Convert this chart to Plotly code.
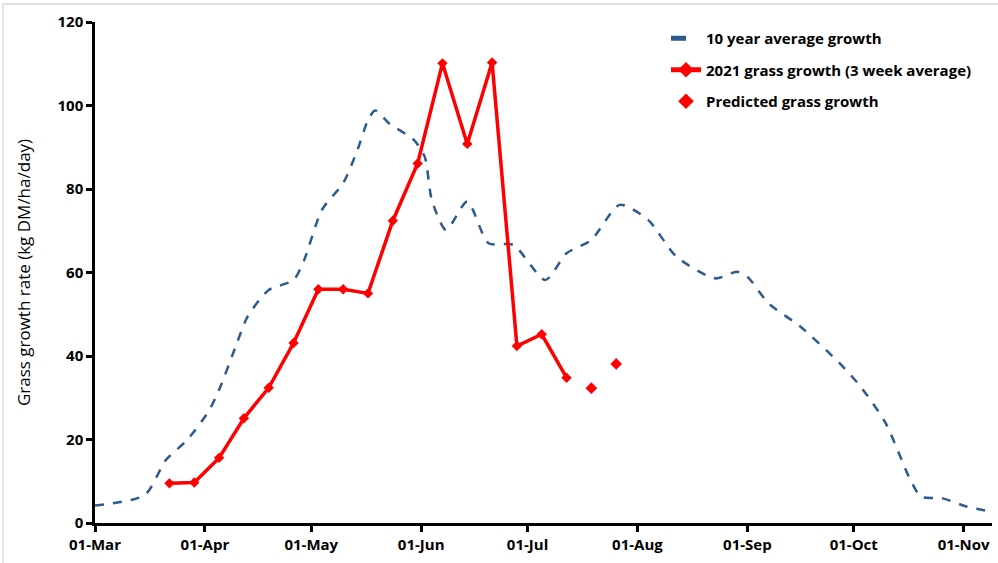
import plotly.graph_objects as go

# 10 year average growth
avg_dates = ["2021-03-01", "2021-03-15", "2021-03-21", "2021-03-27", "2021-04-02", "2021-04-05",
             "2021-04-10", "2021-04-13", "2021-04-19", "2021-04-26", "2021-04-29", "2021-05-04",
             "2021-05-10", "2021-05-14", "2021-05-17", "2021-05-19", "2021-05-23", "2021-05-30",
             "2021-06-02", "2021-06-04", "2021-06-08", "2021-06-14", "2021-06-20", "2021-06-27",
             "2021-07-06", "2021-07-12", "2021-07-19", "2021-07-27", "2021-08-04", "2021-08-12",
             "2021-08-23", "2021-08-29", "2021-09-01", "2021-09-07", "2021-09-16", "2021-09-27",
             "2021-10-03", "2021-10-10", "2021-10-17", "2021-10-20", "2021-10-26", "2021-11-02",
             "2021-11-09"]
avg_values = [4.2, 6.7, 15.1, 19.9, 26.7, 31.9,
              43.0, 49.4, 55.8, 58.2, 63.0, 75.0,
              81.4, 89.3, 96.5, 98.8, 95.7, 91.7,
              87.7, 77.4, 70.2, 77.0, 67.0, 66.6,
              58.2, 64.6, 67.8, 76.2, 72.6, 63.8,
              58.6, 60.2, 59.0, 52.6, 47.0, 38.3,
              32.6, 23.9, 10.3, 6.3, 5.9, 3.9,
              2.7]

# 2021 grass growth (3 week average)
g2021_dates = ["2021-03-22", "2021-03-29", "2021-04-05", "2021-04-12", "2021-04-19", "2021-04-26",
               "2021-05-03", "2021-05-10", "2021-05-17", "2021-05-24", "2021-05-31", "2021-06-07",
               "2021-06-14", "2021-06-21", "2021-06-28", "2021-07-05", "2021-07-12"]
g2021_values = [9.5, 9.7, 15.6, 25.1, 32.4, 43.1,
                56.0, 56.0, 55.0, 72.4, 86.1, 110.1,
                90.8, 110.3, 42.4, 45.2, 34.8]

# Predicted grass growth
pred_dates = ["2021-07-19", "2021-07-26"]
pred_values = [32.3, 38.1]

tick_dates = ["2021-03-01", "2021-04-01", "2021-05-01", "2021-06-01", "2021-07-01",
              "2021-08-01", "2021-09-01", "2021-10-01", "2021-11-01"]
tick_labels = ["01-Mar", "01-Apr", "01-May", "01-Jun", "01-Jul",
               "01-Aug", "01-Sep", "01-Oct", "01-Nov"]

FONT = "Open Sans"
W, H = 998, 563
ML, MR, MT, MB = 95, 6, 22, 40
PW, PH = W - ML - MR, H - MT - MB

fig = go.Figure()
fig.add_trace(go.Scatter(
    x=avg_dates, y=avg_values, mode="lines", name="10 year average growth",
    legendgroup="a",
    line=dict(color="#2E5A8C", width=2.5, dash="dash", shape="spline", smoothing=0.7),
))
fig.add_trace(go.Scatter(
    x=g2021_dates, y=g2021_values, mode="lines+markers",
    name="2021 grass growth (3 week average)", legendgroup="b",
    line=dict(color="#FF0000", width=3.5),
    marker=dict(symbol="diamond", size=8, color="#FF0000"),
))
fig.add_trace(go.Scatter(
    x=pred_dates, y=pred_values, mode="markers", name="Predicted grass growth",
    legendgroup="c",
    marker=dict(symbol="diamond", size=9, color="#FF0000"),
))

# light grey frame around the whole picture (left/top visible edges)
fig.add_shape(type="rect", xref="paper", yref="paper",
              x0=(3 - ML) / PW, x1=(W + 5 - ML) / PW,
              y0=(H - MB - (H + 5)) / PH, y1=(H - MB - 4) / PH,
              line=dict(color="#D9D9D9", width=1.5), layer="below")

fig.update_layout(
    width=W, height=H,
    margin=dict(l=ML, r=MR, t=MT, b=MB),
    paper_bgcolor="white", plot_bgcolor="white",
    font=dict(family=FONT, color="black"),
    showlegend=True,
    legend=dict(
        x=(666 - ML) / PW, y=1.0, xanchor="left", yanchor="top",
        bgcolor="rgba(0,0,0,0)",
        font=dict(family=FONT, size=15, color="black", weight="bold"),
        tracegroupgap=9, itemsizing="constant", traceorder="grouped",
    ),
    xaxis=dict(
        type="date", range=["2021-03-01", "2021-11-09"],
        tickvals=tick_dates, ticktext=tick_labels,
        showline=True, linecolor="black", linewidth=2.5,
        ticks="outside", ticklen=6, tickwidth=2.5, tickcolor="black",
        showgrid=False, zeroline=False,
        tickfont=dict(family=FONT, size=15, color="black", weight="bold"),
    ),
    yaxis=dict(
        range=[0, 120], tickvals=[0, 20, 40, 60, 80, 100, 120],
        showline=True, linecolor="black", linewidth=2.5,
        ticks="outside", ticklen=6, tickwidth=2.5, tickcolor="black",
        showgrid=False, zeroline=False,
        tickfont=dict(family=FONT, size=15, color="black", weight="bold"),
        title=dict(text="Grass growth rate (kg DM/ha/day)",
                   font=dict(family=FONT, size=17, color="black"), standoff=23),
    ),
)

fig.write_html("out.html", config={"displayModeBar": False},
               post_script="document.body.style.margin='0';document.body.style.overflow='hidden';")
